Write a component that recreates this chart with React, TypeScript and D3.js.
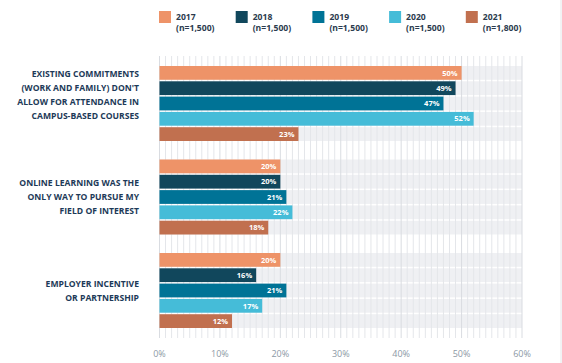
import React from "react";
import * as d3 from "d3";

const years = ["2017", "2018", "2019", "2020", "2021"];
const sampleSizes = ["(n=1,500)", "(n=1,500)", "(n=1,500)", "(n=1,500)", "(n=1,800)"];
const colors = ["#EE9368", "#11475C", "#007396", "#45BCD8", "#C1704F"];
const categories = ["commitments", "only-way", "employer"];
const categoryLabels = [
  ["EXISTING COMMITMENTS", "(WORK AND FAMILY) DON'T", "ALLOW FOR ATTENDANCE IN", "CAMPUS-BASED COURSES"],
  ["ONLINE LEARNING WAS THE", "ONLY WAY TO PURSUE MY", "FIELD OF INTEREST"],
  ["EMPLOYER INCENTIVE", "OR PARTNERSHIP"],
];
const values2017 = [50, 20, 20];
const values2018 = [49, 20, 16];
const values2019 = [47, 21, 21];
const values2020 = [52, 22, 17];
const values2021 = [23, 18, 12];
const seriesValues = [values2017, values2018, values2019, values2020, values2021];
const xTicks = [0, 10, 20, 30, 40, 50, 60];

const W = 562;
const H = 363;
const FONT = "'Open Sans', 'Noto Sans', sans-serif";

export default function App() {
  const x = d3.scaleLinear().domain([0, 60]).range([159.5, 522]);
  const yGroup = d3.scaleBand<string>().domain(categories).range([66, 328]).paddingInner(0.198).paddingOuter(0);
  const yInner = d3.scaleBand<string>().domain(years).range([0, yGroup.bandwidth()]).paddingInner(0.1).paddingOuter(0);
  const minor = d3.range(0, 61, 1);
  const labelOffsets = [-9, 0, 0];

  return (
    <svg width={W} height={H} style={{ position: "absolute", left: 0, top: 0, background: "#fff" }} fontFamily={FONT}>
      {/* legend */}
      {years.map((yr, i) => {
        const lx = 159 + i * 76.7;
        return (
          <g key={yr} transform={`translate(${lx},11)`}>
            <rect width={12} height={12} fill={colors[i]} />
            <text x={17} y={8.5} fontSize={8.6} fontWeight={700} fill="#2b3b4e">{yr}</text>
            <text x={17} y={20} fontSize={8.6} fontWeight={700} fill="#2b3b4e">{sampleSizes[i]}</text>
          </g>
        );
      })}

      {/* gray row bands */}
      {categories.map((c) =>
        years.map((yr) => (
          <rect key={c + yr} x={x(0)} width={x(60) - x(0)} y={(yGroup(c) as number) + (yInner(yr) as number)} height={yInner.bandwidth()} fill="#eff0f3" />
        ))
      )}

      {/* minor grid */}
      {minor.map((m) => (
        <line key={m} x1={x(m)} x2={x(m)} y1={56} y2={338} stroke={m % 10 === 0 ? "#d9dce1" : "#e4e6ea"} strokeWidth={1} />
      ))}

      {/* bars */}
      {categories.map((c, ci) =>
        years.map((yr, yi) => {
          const v = seriesValues[yi][ci];
          const y0 = (yGroup(c) as number) + (yInner(yr) as number);
          return (
            <g key={c + yr}>
              <rect x={x(0)} y={y0} width={x(v) - x(0)} height={yInner.bandwidth()} fill={colors[yi]} />
              <text x={x(v) - 4} y={y0 + yInner.bandwidth() / 2 + 2.7} textAnchor="end" fontSize={7.5} fontWeight={700} fill="#fff">{v}%</text>
            </g>
          );
        })
      )}

      {/* category labels */}
      {categories.map((c, ci) => {
        const lines = categoryLabels[ci];
        const cy = (yGroup(c) as number) + yGroup.bandwidth() / 2 + labelOffsets[ci];
        const lh = 13.9;
        const start = cy - ((lines.length - 1) * lh) / 2;
        return (
          <g key={c}>
            {lines.map((ln, li) => (
              <text key={li} x={139} y={start + li * lh + 3.2} textAnchor="end" fontSize={8.6} fontWeight={700} fill="#1d3a58">{ln}</text>
            ))}
          </g>
        );
      })}

      {/* x axis labels */}
      {xTicks.map((t) => (
        <text key={t} x={x(t)} y={357} textAnchor="middle" fontSize={9} fill="#8c98a5">{t}%</text>
      ))}

      <line x1={561} x2={561} y1={0} y2={H} stroke="#e4e6e9" />
    </svg>
  );
}
